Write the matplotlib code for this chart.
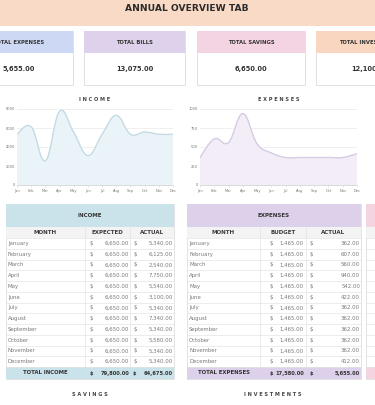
import matplotlib
matplotlib.use('Agg')
import matplotlib.pyplot as plt
from matplotlib.path import Path
from matplotlib.patches import PathPatch, Rectangle

# ---- data ----
months = ['January', 'February', 'March', 'April', 'May', 'June', 'July',
          'August', 'September', 'October', 'November', 'December']
month_short = ['Jan', 'Feb', 'Mar', 'Apr', 'May', 'Jun', 'Jul', 'Aug', 'Sep', 'Oct', 'Nov', 'Dec']

income_expected = [6650, 6650, 6650, 6650, 6650, 6650, 6650, 6650, 6650, 6650, 6650, 6650]
income_actual = [5340, 6125, 2540, 7750, 5540, 3100, 5340, 7340, 5340, 5580, 5340, 5340]
expense_budget = [1465, 1465, 1465, 1465, 1465, 1465, 1465, 1465, 1465, 1465, 1465, 1465]
expense_actual = [362, 607, 560, 940, 542, 422, 362, 362, 362, 362, 362, 412]

card_titles = ['TOTAL EXPENSES', 'TOTAL BILLS', 'TOTAL SAVINGS', 'TOTAL INVESTMENTS']
card_values = [5655, 13075, 6650, 12100]
card_colors = ['#cdd8f4', '#ddd1eb', '#f4d3e2', '#f9d6c0']

FONT = 'DejaVu Sans'
W, H = 375, 405
fig = plt.figure(figsize=(3.75, 4.05), dpi=100)
bg = fig.add_axes([0, 0, 1, 1])
bg.set_xlim(0, W)
bg.set_ylim(H, 0)
bg.axis('off')


def box(x0, y0, x1, y1, fc, ec='none', lw=0):
    bg.add_patch(Rectangle((x0, y0), x1 - x0, y1 - y0, fc=fc, ec=ec, lw=lw))


def txt(x, y, s, size=4, color='#444444', weight='normal', ha='center'):
    bg.text(x, y, s, fontsize=size, color=color, fontweight=weight, ha=ha,
            va='center', family=FONT)


def money(v):
    return f'{v:,.2f}'


# title band
box(0, 0, W, 25.5, '#f9dac7')
txt(187, 8.8, 'ANNUAL OVERVIEW TAB', size=6.6, color='#2b2b2b', weight='bold')

# summary cards (first and last run past the edges, as in the screenshot)
card_x = [(-35, 73), (84, 185), (197, 305), (316, 424)]
for (x0, x1), t, v, c in zip(card_x, card_titles, card_values, card_colors):
    box(x0, 31, x1, 85, 'white', ec='#dcdcdc', lw=0.6)
    box(x0, 31, x1, 53, c)
    cx = (x0 + x1) / 2
    txt(cx, 43, t, size=3.8, color='#333333', weight='bold')
    txt(cx, 69, money(v), size=4.8, color='#333333', weight='bold')


# smooth line through the monthly points (bezier segments)
def smooth_path(xs, ys, k=0.2):
    verts = [(xs[0], ys[0])]
    codes = [Path.MOVETO]
    n = len(xs)
    for i in range(n - 1):
        a = max(i - 1, 0)
        b = min(i + 2, n - 1)
        c1 = (xs[i] + (xs[i + 1] - xs[a]) * k, ys[i] + (ys[i + 1] - ys[a]) * k)
        c2 = (xs[i + 1] - (xs[b] - xs[i]) * k, ys[i + 1] - (ys[b] - ys[i]) * k)
        verts += [c1, c2, (xs[i + 1], ys[i + 1])]
        codes += [Path.CURVE4] * 3
    return verts, codes


def chart(px0, px1, title, values, ymax, ystep, line_c, fill_c):
    top, bot = 109, 185
    ax = fig.add_axes([px0 / W, (H - bot) / H, (px1 - px0) / W, (bot - top) / H])
    xs = list(range(len(values)))
    verts, codes = smooth_path(xs, values)
    fill = PathPatch(Path(verts + [(xs[-1], 0), (xs[0], 0), (xs[0], values[0])],
                          codes + [Path.LINETO, Path.LINETO, Path.CLOSEPOLY]),
                     fc=fill_c, ec='none')
    ax.add_patch(fill)
    ax.add_patch(PathPatch(Path(verts, codes), fc='none', ec=line_c, lw=1.0))
    ax.set_xlim(0, len(values) - 1)
    ax.set_ylim(0, ymax)
    ax.set_yticks(range(0, ymax + 1, ystep))
    ax.set_xticks(xs)
    ax.set_xticklabels(month_short)
    ax.grid(axis='y', color='#ededed', lw=0.6)
    ax.set_axisbelow(True)
    for s in ['top', 'right', 'left']:
        ax.spines[s].set_visible(False)
    ax.spines['bottom'].set_color('#d5d5d5')
    ax.spines['bottom'].set_linewidth(0.6)
    ax.tick_params(axis='both', labelsize=2.6, colors='#777777', length=0, pad=1.5)
    ax.tick_params(axis='x', length=1.2, width=0.4, color='#d5d5d5')
    ax.patch.set_alpha(0)
    txt((px0 + px1) / 2, 99.5, ' '.join(title), size=3.6, color='#444444', weight='bold')


chart(17, 173, 'INCOME', income_actual, 8000, 2000, '#c4dbe4', '#eaf4f8')
chart(200, 357, 'EXPENSES', expense_actual, 1000, 250, '#d7cbe5', '#f2edf7')


# tables
def table(x0, x1, edges, title, heads, col1, col2, total_label, color, dollar_x, right_x):
    row_h = (367 - 238) / 12
    box(x0, 204, x1, 379, 'white', ec='#dedede', lw=0.6)
    box(x0, 204, x1, 227, color)
    box(x0, 227, x1, 238, '#f3f3f3')
    box(x0, 367, x1, 379, color)
    txt((x0 + x1) / 2, 215.5, title, size=4, color='#333333', weight='bold')
    for i in range(len(edges) - 1):
        txt((edges[i] + edges[i + 1]) / 2, 232.5, heads[i], size=4, color='#3a3a3a', weight='bold')
    for i in range(13):
        y = 238 + i * row_h
        bg.plot([x0, x1], [y, y], color='#e4e4e4', lw=0.5)
    for e in edges[1:-1]:
        bg.plot([e, e], [227, 367], color='#e4e4e4', lw=0.5)
    for i, m in enumerate(months):
        y = 238 + (i + 0.5) * row_h
        txt(x0 + 2, y, m, size=3.9, color='#7a7a7a', ha='left')
        for vals, dx, rx in zip((col1, col2), dollar_x, right_x):
            txt(dx, y, '$', size=3.9, color='#7a7a7a', ha='left')
            txt(rx, y, money(vals[i]), size=3.9, color='#7a7a7a', ha='right')
    yt = 373
    txt((edges[0] + edges[1]) / 2, yt, total_label, size=3.9, color='#333333', weight='bold')
    for vals, dx, rx in zip((col1, col2), dollar_x, right_x):
        txt(dx, yt, '$', size=3.7, color='#333333', weight='bold', ha='left')
        txt(rx, yt, money(sum(vals)), size=3.7, color='#333333', weight='bold', ha='right')


table(6, 174, [6, 85, 130, 174], 'INCOME', ['MONTH', 'EXPECTED', 'ACTUAL'],
      income_expected, income_actual, 'TOTAL INCOME', '#cae3eb', [89.5, 133], [129, 173])
table(187, 361, [187, 260, 306, 361], 'EXPENSES', ['MONTH', 'BUDGET', 'ACTUAL'],
      expense_budget, expense_actual, 'TOTAL EXPENSES', '#ddd0ea', [270, 310], [304, 360])

# next table peeking in at the right edge
box(366, 204, 420, 379, 'white', ec='#dedede', lw=0.6)
box(366, 204, 420, 227, '#f4d4e0')
box(366, 227, 420, 238, '#f3f3f3')
box(366, 367, 420, 379, '#f4d4e0')
for i in range(13):
    y = 238 + i * (367 - 238) / 12
    bg.plot([366, 420], [y, y], color='#e4e4e4', lw=0.5)

txt(90, 394, ' '.join('SAVINGS'), size=3.6, color='#444444', weight='bold')
txt(273, 394, ' '.join('INVESTMENTS'), size=3.6, color='#444444', weight='bold')

fig.savefig('out.png', dpi=100, facecolor='white')
